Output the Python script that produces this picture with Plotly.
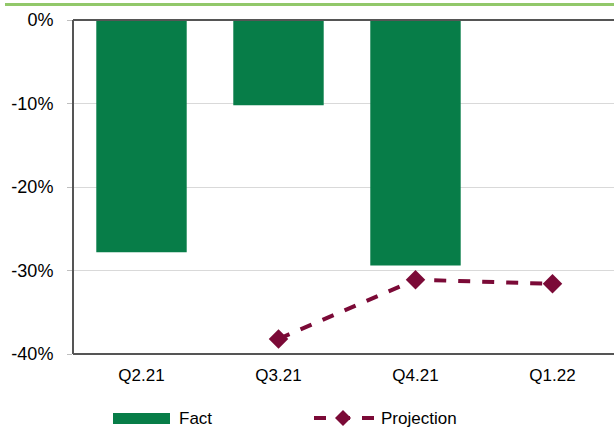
import plotly.graph_objects as go

categories = ["Q2.21", "Q3.21", "Q4.21", "Q1.22"]
fact_values = [-27.8, -10.2, -29.4, None]
projection_values = [None, -38.2, -31.1, -31.6]
y_ticks = [0, -10, -20, -30, -40]
y_tick_labels = ["0%", "-10%", "-20%", "-30%", "-40%"]

font_family = "Liberation Sans, Arial, sans-serif"
green = "#077D48"
maroon = "#7B0A37"

# plot area geometry in pixels (used for paper-coordinate decorations)
PLOT_TOP, PLOT_BOTTOM, PLOT_LEFT, PLOT_RIGHT = 20, 354, 73, 614
FIG_W, FIG_H = 614, 427
PH = PLOT_BOTTOM - PLOT_TOP
PW = PLOT_RIGHT - PLOT_LEFT


def py(p):
    return (PLOT_BOTTOM - p) / PH


def px(p):
    return (p - PLOT_LEFT) / PW


fig = go.Figure()
fig.add_trace(go.Bar(
    x=list(range(len(categories))), y=fact_values, name="Fact",
    marker=dict(color=green, line=dict(width=0)), width=0.66,
))
fig.add_trace(go.Scatter(
    x=list(range(len(categories))), y=projection_values, name="Projection",
    mode="lines+markers",
    line=dict(color=maroon, width=4, dash="dash"),
    marker=dict(symbol="diamond", size=15, color=maroon),
))

legend_y = 418
dx, dy = 8, 8
frame = dict(color="#555555", width=2)
shapes = [
    # green rule at the top
    dict(type="line", xref="paper", yref="paper", x0=px(5), x1=1.0,
         y0=py(4.5), y1=py(4.5), line=dict(color="#92C86A", width=3)),
    # frame lines: top, left, bottom
    dict(type="line", xref="paper", yref="paper", x0=0, x1=1.0,
         y0=1.0, y1=1.0, line=frame),
    dict(type="line", xref="paper", yref="paper", x0=0, x1=0,
         y0=0, y1=1.0, line=frame),
    dict(type="line", xref="paper", yref="paper", x0=0, x1=1.0,
         y0=0, y1=0, line=frame),
    # legend: Fact swatch
    dict(type="rect", xref="paper", yref="paper", x0=px(113), x1=px(170),
         y0=py(413), y1=py(424), fillcolor=green, line=dict(width=0)),
    # legend: projection line sample
    dict(type="line", xref="paper", yref="paper", x0=px(314), x1=px(375),
         y0=py(legend_y), y1=py(legend_y),
         line=dict(color=maroon, width=4, dash="dash")),
    dict(type="path", xref="paper", yref="paper",
         path="M {} {} L {} {} L {} {} L {} {} Z".format(
             px(343 - dx), py(legend_y), px(343), py(legend_y - dy),
             px(343 + dx), py(legend_y), px(343), py(legend_y + dy)),
         fillcolor=maroon, line=dict(width=0)),
]
annotations = [
    dict(text="Fact", xref="paper", yref="paper", x=px(177), y=py(legend_y),
         xanchor="left", yanchor="middle", showarrow=False, font=dict(size=17)),
    dict(text="Projection", xref="paper", yref="paper", x=px(379), y=py(legend_y),
         xanchor="left", yanchor="middle", showarrow=False, font=dict(size=17)),
]

fig.update_layout(
    width=FIG_W, height=FIG_H,
    margin=dict(l=PLOT_LEFT, r=0, t=PLOT_TOP, b=FIG_H - PLOT_BOTTOM, autoexpand=False),
    paper_bgcolor="white", plot_bgcolor="white",
    font=dict(family=font_family, size=17, color="#000"),
    showlegend=False,
    xaxis=dict(
        tickmode="array", tickvals=list(range(len(categories))), ticktext=categories,
        range=[-0.5, 3.449], showgrid=False, showline=False,
        ticks="", zeroline=False, ticklabelstandoff=9,
        tickfont=dict(size=17),
    ),
    yaxis=dict(
        range=[-40, 0], tickvals=y_ticks, ticktext=y_tick_labels,
        showgrid=True, gridcolor="#d9d9d9", gridwidth=1,
        showline=False,
        ticks="outside", ticklen=5, tickcolor="#bfbfbf",
        zeroline=False, tickfont=dict(size=18), ticklabelstandoff=10,
    ),
    shapes=shapes,
    annotations=annotations,
)

fig.write_html("out.html", config=dict(displayModeBar=False))
